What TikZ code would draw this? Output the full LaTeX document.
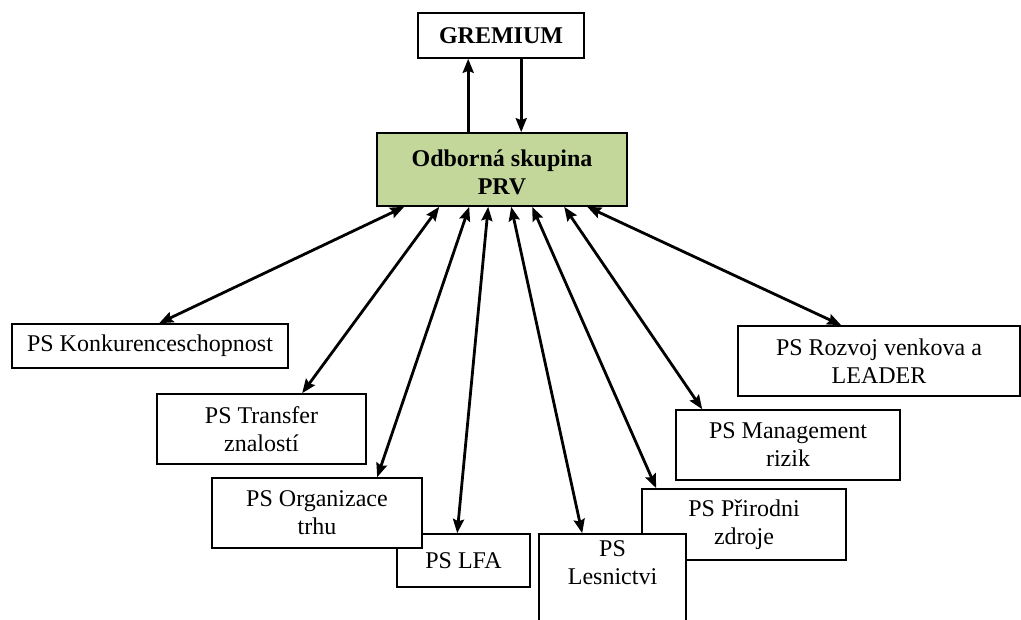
\documentclass[tikz,border=0pt]{standalone}
\usepackage{fontspec}
\setmainfont{Liberation Serif}
\usetikzlibrary{arrows.meta}
\definecolor{prvgreen}{RGB}{196,215,155}
\tikzset{
  box/.style={draw=black, line width=1.6pt, fill=white, align=center, inner sep=0pt,
    font=\fontsize{24}{28}\selectfont},
  conn/.style={line width=2.8pt, -{Stealth[length=14pt,width=11pt,inset=2pt]}},
  dconn/.style={line width=2.8pt, {Stealth[length=14pt,width=11pt,inset=2pt]}-{Stealth[length=14pt,width=11pt,inset=2pt]}}
}
\begin{document}
\begin{tikzpicture}[x=1pt,y=-1pt]
\useasboundingbox[fill=white] (0,0) rectangle (1021,620);
\node[box, minimum width=166pt, minimum height=45pt, font=\fontsize{24}{28}\selectfont\bfseries] (gr) at (501,35.5) {GREMIUM};
\node[box, fill=prvgreen, minimum width=250pt, minimum height=73pt, font=\fontsize{24}{28}\selectfont\bfseries] (g) at (502,169.5) {\raisebox{-5pt}[\height][\depth]{\begin{tabular}{@{}c@{}}Odborná skupina\\PRV\end{tabular}}};
\node[box, minimum width=276pt, minimum height=44pt] (k) at (150,346) {PS Konkurenceschopnost};
\node[box, minimum width=209pt, minimum height=70pt] (t) at (261.5,429) {PS Transfer\\znalostí};
\node[box, minimum width=133pt, minimum height=53pt] (l) at (463.5,560.5) {PS LFA};
\node[box, minimum width=210pt, minimum height=70pt] (o) at (317,513) {PS Organizace\\trhu};
\node[box, minimum width=204pt, minimum height=71pt] (p) at (744,524.5) {PS Přirodni\\zdroje};
\node[box, minimum width=147pt, minimum height=94pt] (les) at (612.5,581) {PS\\Lesnictvi\\\strut};
\node[box, minimum width=224pt, minimum height=70pt] (m) at (788,445) {PS Management\\rizik};
\node[box, minimum width=282pt, minimum height=70pt] (r) at (879,361) {PS Rozvoj venkova a\\LEADER};
% GREMIUM connectors
\draw[conn] ([xshift=92pt]g.north west) -- ([xshift=51pt]gr.south west);
\draw[conn] ([xshift=104pt]gr.south west) -- ([xshift=145pt]g.north west);
% working groups
\draw[dconn] ([xshift=28pt]g.south west) -- ([xshift=148pt]k.north west);
\draw[dconn] ([xshift=63pt]g.south west) -- ([xshift=146pt]t.north west);
\draw[dconn] ([xshift=93pt]g.south west) -- ([xshift=166pt]o.north west);
\draw[dconn] ([xshift=112pt]g.south west) -- ([xshift=61pt]l.north west);
\draw[dconn] ([xshift=135pt]g.south west) -- ([xshift=44pt]les.north west);
\draw[dconn] ([xshift=156pt]g.south west) -- ([xshift=15pt]p.north west);
\draw[dconn] ([xshift=188pt]g.south west) -- ([xshift=27pt]m.north west);
\draw[dconn] ([xshift=211pt]g.south west) -- ([xshift=104pt]r.north west);
\end{tikzpicture}
\end{document}
